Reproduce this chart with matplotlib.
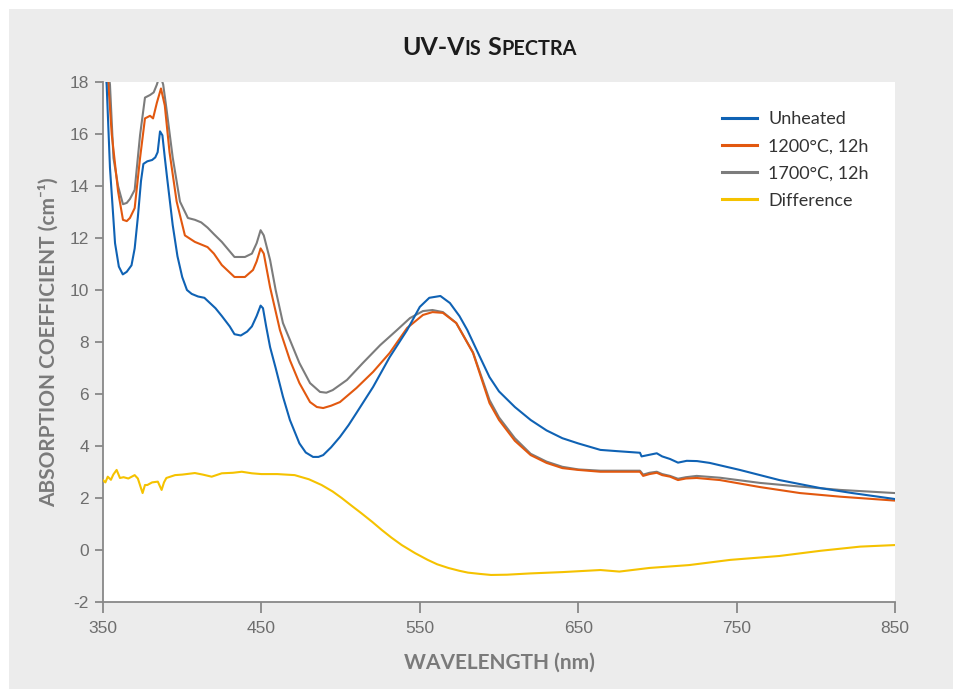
import matplotlib
matplotlib.use("Agg")
import matplotlib.pyplot as plt
from matplotlib.patches import Rectangle

plt.rcParams["axes.unicode_minus"] = False

# ---------------- data ----------------
wl_unheated = [350, 352.3, 354.4, 357.6, 360, 362.5, 365, 368, 370, 372, 374, 375.5, 378, 381, 383,
               384.5, 386, 387.5, 389, 390.5, 394, 397, 400, 403, 406, 410, 414, 417.5, 421, 425,
               430, 433, 437, 441, 444, 447, 449.5, 451, 453, 455.5, 459, 463.6, 468, 474, 478,
               482.6, 486, 489, 494, 499.6, 505, 510, 520.5, 531, 542, 550, 556, 563, 569, 575,
               580, 588, 594, 600, 610, 620, 630, 640, 650, 664, 675, 689, 690, 694, 699.6, 703,
               708, 713, 718.5, 725, 733, 752, 777, 803, 823, 850]
abs_unheated = [19.5, 17.9, 14.7, 11.8, 10.9, 10.6, 10.7, 10.95, 11.6, 12.8, 14.2, 14.85, 14.95, 15.0, 15.1,
                15.3, 16.1, 15.95, 15.1, 14.3, 12.5, 11.3, 10.5, 10.0, 9.85, 9.75, 9.7, 9.5, 9.3, 9.0,
                8.6, 8.3, 8.25, 8.4, 8.6, 9.0, 9.4, 9.3, 8.6, 7.8, 7.0, 5.9, 5.0, 4.1, 3.75,
                3.58, 3.58, 3.65, 3.95, 4.35, 4.8, 5.27, 6.27, 7.42, 8.46, 9.35, 9.7, 9.77, 9.5, 9.0,
                8.46, 7.42, 6.65, 6.1, 5.5, 5.0, 4.6, 4.3, 4.1, 3.85, 3.8, 3.74, 3.6, 3.65, 3.72, 3.6,
                3.5, 3.36, 3.43, 3.42, 3.35, 3.08, 2.69, 2.38, 2.19, 1.96]

wl_1200 = [350, 353.4, 355.5, 359.5, 362.6, 365, 367, 370, 373.4, 376.5, 379.7, 381.6, 384, 386.6,
           389, 392, 396.5, 401.7, 408, 416, 420, 425, 433, 439.6, 444.7, 447, 449.5, 451.5, 455.5,
           461.7, 468, 474, 480.7, 485, 489, 494, 499.6, 510, 520.5, 531, 542, 552, 558, 564.6,
           573, 583.6, 594, 600, 610, 620, 630, 640, 650, 664, 689, 691, 695, 699.6, 703, 708,
           713, 718, 724.8, 739.5, 764.8, 790, 815.6, 850]
abs_1200 = [20.0, 17.9, 16.0, 13.8, 12.7, 12.65, 12.77, 13.15, 15.08, 16.6, 16.7, 16.6, 17.2, 17.75,
            17.1, 15.3, 13.4, 12.1, 11.85, 11.65, 11.4, 10.96, 10.5, 10.5, 10.77, 11.1, 11.6, 11.4, 10.1,
            8.46, 7.3, 6.42, 5.69, 5.5, 5.46, 5.55, 5.69, 6.23, 6.85, 7.58, 8.54, 9.04, 9.15, 9.12,
            8.73, 7.58, 5.65, 5.0, 4.2, 3.65, 3.35, 3.15, 3.08, 3.01, 3.01, 2.85, 2.92, 2.97, 2.88, 2.82,
            2.69, 2.75, 2.77, 2.69, 2.42, 2.19, 2.05, 1.9]

wl_1700 = [350, 354.4, 356.6, 359.5, 362.6, 365, 367, 370, 373.4, 376.5, 379.7, 382, 384, 386, 388,
           390, 394, 398.6, 403.6, 408, 412, 416, 420, 425, 433, 439.6, 444, 447, 449.5, 451.5,
           455.5, 459, 463.6, 468, 474, 480.7, 487, 491, 495, 504, 514, 525, 535.6, 543.8, 552,
           558, 564.6, 573, 583.6, 594, 600, 610, 620, 630, 640, 650, 664, 689, 691, 695, 699.6,
           703, 708, 713, 718, 724.8, 739.5, 764.8, 790, 815.6, 850]
abs_1700 = [20.0, 17.9, 15.08, 14.0, 13.3, 13.35, 13.5, 13.85, 15.96, 17.4, 17.5, 17.6, 17.9, 18.3, 17.9,
            17.0, 15.1, 13.4, 12.77, 12.7, 12.6, 12.4, 12.15, 11.85, 11.27, 11.27, 11.4, 11.8, 12.3, 12.1,
            11.15, 10.0, 8.73, 8.08, 7.19, 6.42, 6.08, 6.05, 6.15, 6.54, 7.19, 7.88, 8.46, 8.92, 9.19,
            9.23, 9.15, 8.73, 7.6, 5.77, 5.1, 4.3, 3.7, 3.4, 3.2, 3.1, 3.05, 3.05, 2.9, 2.97, 3.01,
            2.92, 2.85, 2.74, 2.8, 2.85, 2.78, 2.58, 2.44, 2.31, 2.19]

wl_diff = [350, 351.5, 353, 355, 356.5, 358.6, 360.7, 363, 366, 370, 372, 375, 376.5, 378, 381,
           384.6, 387, 388.5, 390, 395.5, 400, 408, 413, 418.6, 425, 432, 437.6, 444, 450, 460,
           471, 480, 488, 495, 500.7, 507, 513, 520, 526, 532, 538.6, 547, 555, 561, 568, 575,
           580.4, 588, 595, 605, 620, 640, 664, 676, 695, 720, 746, 777, 803, 828, 850]
abs_diff = [2.69, 2.6, 2.82, 2.7, 2.9, 3.08, 2.77, 2.8, 2.75, 2.88, 2.75, 2.19, 2.5, 2.5, 2.6,
            2.63, 2.31, 2.6, 2.77, 2.88, 2.9, 2.96, 2.9, 2.82, 2.95, 2.97, 3.01, 2.95, 2.92, 2.92,
            2.88, 2.72, 2.5, 2.25, 2.0, 1.7, 1.42, 1.08, 0.77, 0.48, 0.19, -0.12, -0.38, -0.55, -0.69, -0.8,
            -0.87, -0.92, -0.96, -0.95, -0.9, -0.85, -0.77, -0.83, -0.69, -0.58, -0.38, -0.23, -0.03, 0.13, 0.19]

series_labels = ["Unheated", "1200°C, 12h", "1700°C, 12h", "Difference"]
x_ticks = [350, 450, 550, 650, 750, 850]
y_ticks = [-2, 0, 2, 4, 6, 8, 10, 12, 14, 16, 18]

# ---------------- figure ----------------
W, H = 954, 689
fig = plt.figure(figsize=(W / 100, H / 100), dpi=100, facecolor="white")
fig.patches.append(Rectangle((9 / W, 0), 1 - 9 / W, 1 - 9 / H, transform=fig.transFigure,
                             facecolor="#ececec", edgecolor="none", zorder=-10))

ax_l, ax_r, ax_t, ax_b = 103, 895, 82, 602
ax = fig.add_axes([ax_l / W, (H - ax_b) / H, (ax_r - ax_l) / W, (ax_b - ax_t) / H])
ax.set_facecolor("white")

colors = ["#0f62b4", "#e2580f", "#7c7c7c", "#f5c200"]
lw = 1.5
ax.plot(wl_unheated, abs_unheated, color=colors[0], lw=lw, label=series_labels[0], zorder=4)
ax.plot(wl_1200, abs_1200, color=colors[1], lw=lw, label=series_labels[1], zorder=3)
ax.plot(wl_1700, abs_1700, color=colors[2], lw=lw, label=series_labels[2], zorder=2)
ax.plot(wl_diff, abs_diff, color=colors[3], lw=lw, label=series_labels[3], zorder=3)

ax.set_xlim(350, 850)
ax.set_ylim(-2, 18)
ax.set_xticks(x_ticks)
ax.set_yticks(y_ticks)

axis_col = "#888888"
for s in ["top", "right"]:
    ax.spines[s].set_visible(False)
for s in ["left", "bottom"]:
    ax.spines[s].set_color(axis_col)
    ax.spines[s].set_linewidth(1.3)
ax.tick_params(axis="x", direction="out", length=8, width=1.3, color=axis_col,
               labelcolor="#6e6e6e", labelsize=12.5, pad=6)
ax.tick_params(axis="y", direction="out", length=6, width=1.3, color=axis_col,
               labelcolor="#6e6e6e", labelsize=12.5, pad=4)
for lab in ax.get_xticklabels() + ax.get_yticklabels():
    lab.set_fontfamily(["Liberation Sans", "DejaVu Sans"])

label_font = dict(family=["Lato", "DejaVu Sans"], weight="bold", color="#7a7a7a", size=15)
ax.set_xlabel("WAVELENGTH (nm)", labelpad=12, **label_font)
ax.set_ylabel("ABSORPTION COEFFICIENT (cm⁻¹)", labelpad=8, **label_font)

leg = ax.legend(loc="upper left",
                bbox_to_anchor=((722 - ax_l) / (ax_r - ax_l), (ax_b - 111) / (ax_b - ax_t)),
                frameon=False, borderpad=0, borderaxespad=0,
                handlelength=1.95, handletextpad=0.62, labelspacing=0.62,
                prop=dict(family=["Lato", "DejaVu Sans"], size=13))
for t in leg.get_texts():
    t.set_color("#333333")
for h in leg.get_lines():
    h.set_linewidth(2.2)

# ---------------- small-caps title ----------------
pieces = [("UV-V", 18), ("IS", 14.3), (" S", 18), ("PECTRA", 14.3)]
renderer = fig.canvas.get_renderer()
texts = []
for s, sz in pieces:
    t = fig.text(0, 1 - 55 / H, s, fontsize=sz, family=["Lato", "DejaVu Sans"], weight="bold",
                 color="#1c1c1c", ha="left", va="baseline")
    texts.append(t)
widths = [t.get_window_extent(renderer).width for t in texts]
total = sum(widths)
x0 = (489.5 - total / 2)
for t, w in zip(texts, widths):
    t.set_x(x0 / W)
    x0 += w

fig.savefig("out.png", dpi=100, facecolor="white")
